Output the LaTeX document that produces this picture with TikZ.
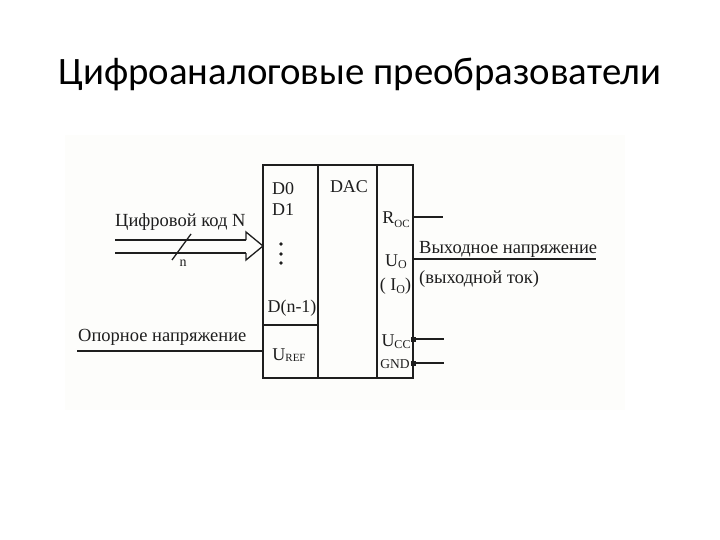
\documentclass[tikz,border=0pt]{standalone}
\usepackage{fontspec}
\setmainfont{Liberation Serif}
\newfontfamily\titlefont{Carlito}
\usetikzlibrary{positioning, calc}
\definecolor{scanInk}{RGB}{30, 30, 30}
\definecolor{scanPaper}{RGB}{253, 253, 251}

\begin{document}
\begin{tikzpicture}[
    x=1pt,
    y=-1pt,
    % Block of the converter
    block/.style={
        draw=scanInk,
        rectangle,
        line width=1.2pt,
        inner sep=0pt,
        outer sep=0pt
    },
    % Text inside the blocks
    pin/.style={
        text=scanInk,
        inner sep=0pt,
        align=center,
        font=\fontsize{18}{18}\selectfont
    },
    % Text along the connectors
    signal/.style={
        text=scanInk,
        inner sep=0pt,
        anchor=base west,
        font=\fontsize{18.5}{19}\selectfont
    },
    % Connector
    wire/.style={
        draw=scanInk,
        line width=1.3pt
    },
    % Small mark on a pin
    tick/.style={
        fill=scanInk,
        rectangle,
        inner sep=0pt,
        minimum size=5pt
    }
]

    \useasboundingbox (0,0) rectangle (720,540);
    \fill[scanPaper] (65,135) rectangle (625,410);

    % Title
    \node (title) [anchor=base, inner sep=0pt, font=\titlefont\fontsize{38.8}{42}\selectfont] at (360,85) {Цифроаналоговые преобразователи};

    % Blocks
    \node (inputs) [block, minimum width=55pt, minimum height=160pt] at (290.5,245) {};
    \node (uref) [block, minimum width=55pt, minimum height=53pt] at (290.5,351.5) {};
    \node (core) [block, minimum width=59pt, minimum height=213pt] at (347.5,271.5) {};
    \node (outputs) [block, minimum width=36pt, minimum height=213pt] at (395,271.5) {};

    % Block texts
    \node (dzero) [pin] at (283,189) {D0};
    \node (done) [pin] at (283,210) {D1};
    \node (dlast) [pin] at (292,308) {D(n-1)};
    \node (urefname) [pin] at (289,355) {U\raisebox{-1pt}{\fontsize{11}{11}\selectfont REF}};
    \node (dacname) [pin] at (349,187) {DAC};
    \node (roc) [pin] at (396,220) {R\raisebox{-4pt}{\fontsize{11}{11}\selectfont OC}};
    \node (uo) [pin] at (396,262) {U\raisebox{-2pt}{\fontsize{12}{12}\selectfont O}};
    \node (io) [pin] at (395.5,286) {( I\raisebox{-3pt}{\fontsize{12}{12}\selectfont O})};
    \node (ucc) [pin] at (396,342) {U\raisebox{-2pt}{\fontsize{12}{12}\selectfont CC}};
    \node (gnd) [pin, font=\fontsize{13.5}{14}\selectfont] at (395,364) {GND};

    % Dots between the inputs
    \foreach \i/\ypos in {1/244,2/254,3/263} {
        \fill[scanInk] (281,\ypos) circle (1.8);
    }

    % Free ends of the connectors
    \coordinate (codeup) at (115,240);
    \coordinate (codedown) at (115,253);
    \coordinate (headup) at (246,240);
    \coordinate (headdown) at (246,253);
    \coordinate (headtop) at (246,232);
    \coordinate (headbottom) at (246,260);
    \coordinate (tip) at (263,246);
    \coordinate (refend) at (77,351);
    \coordinate (rocend) at (443,217);
    \coordinate (outend) at (596,259);
    \coordinate (uccend) at (444,339);
    \coordinate (gndend) at (444,363);
    \coordinate (slashtop) at (191,234);
    \coordinate (slashend) at (172,260);

    % Signal texts
    \node (codetext) [signal] at (115,226) {Цифровой код N};
    \node (buswidth) [pin, font=\fontsize{14}{14}\selectfont] at (183,263) {n};
    \node (reftext) [signal] at (78,341) {Опорное напряжение};
    \node (outtext) [signal] at (419,253) {Выходное напряжение};
    \node (currtext) [signal] at (419,283) {(выходной ток)};

    % Connectors
    \draw [wire] (codeup) -- (headup);
    \draw [wire] (codedown) -- (headdown);
    \draw [wire] (headup) -- (headtop) -- (tip) -- (headbottom) -- (headdown);
    \draw [wire] (slashtop) -- (slashend);
    \draw [wire] (refend) -- (refend -| uref.west);
    \draw [wire] (rocend -| outputs.east) -- (rocend);
    \draw [wire] (outend -| outputs.east) -- (outend);
    \draw [wire] (uccend -| outputs.east) -- (uccend);
    \draw [wire] (gndend -| outputs.east) -- (gndend);

    % Marks on the supply pins
    \node (uccmark) [tick] at (uccend -| outputs.east) {};
    \node (gndmark) [tick] at (gndend -| outputs.east) {};

\end{tikzpicture}
\end{document}
